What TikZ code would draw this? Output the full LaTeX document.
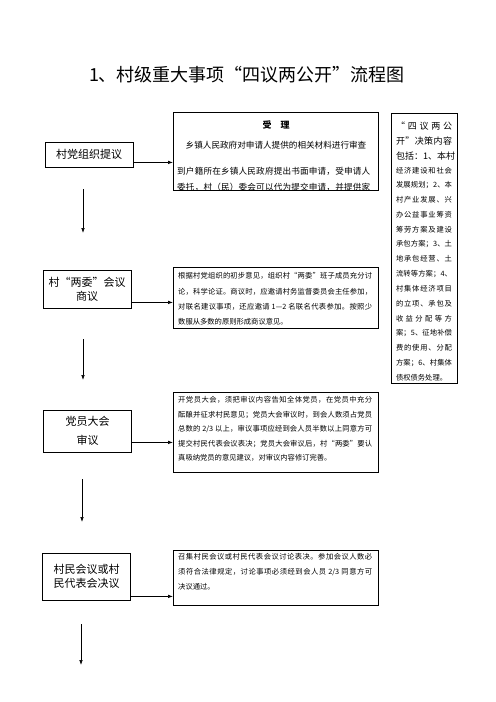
\documentclass[tikz,border=0pt]{standalone}
\usepackage{fontspec}
\setmainfont{Noto Sans CJK SC}
\usetikzlibrary{arrows.meta}
\ExplSyntaxOn
\NewDocumentCommand\jline{mm}{\hbox~to~#1{\tl_map_inline:nn{#2}{##1\hskip~0pt~plus~1fil}\unskip}}
\ExplSyntaxOff
\tikzset{
  lbox/.style={draw, line width=0.8bp, minimum width=88bp, align=center, inner sep=0pt,
    font=\fontsize{11bp}{14bp}\selectfont},
  rbox/.style={draw, line width=0.8bp, anchor=north west, inner sep=0pt},
  txt/.style={anchor=west, inner sep=0pt, font=\fontsize{7.3bp}{9bp}\selectfont},
  atxt/.style={inner sep=0pt, font=\fontsize{8.6bp}{10bp}\selectfont},
  etxt/.style={inner sep=0pt, font=\fontsize{7.3bp}{9bp}\selectfont},
  arr/.style={-{Latex[length=5bp,width=3.6bp]}, line width=0.7bp},
}
\begin{document}
\begin{tikzpicture}[x=1bp,y=-1bp]
\useasboundingbox (0,0) rectangle (496,702);
% title
\node[inner sep=0pt, font=\fontsize{18bp}{20bp}\selectfont] (title) at (247,75) {1、村级重大事项“四议两公开”流程图};
% left boxes
\node[lbox, minimum height=25bp] (b1) at (89,154.5) {村党组织提议};
\node[lbox, minimum height=38bp] (b2) at (87,289) {村“两委”会议\\商议};
\node[lbox, minimum height=42bp] (b3) at (87.5,431) {党员大会\\[5bp]审议};
\node[lbox, minimum height=47bp] (b4) at (86.5,576.5) {村民会议或村\\民代表会决议};
% vertical arrows
\coordinate (a1s) at (83,189); \coordinate (a1e) at (83,233);
\coordinate (a2s) at (83,339); \coordinate (a2e) at (83,380);
\coordinate (a3s) at (82,479); \coordinate (a3e) at (82,522);
\coordinate (a4s) at (81,624); \coordinate (a4e) at (81,665);
\draw[arr] (a1s) -- (a1e);
\draw[arr] (a2s) -- (a2e);
\draw[arr] (a3s) -- (a3e);
\draw[arr] (a4s) -- (a4e);
% right boxes
\node[rbox, minimum width=205bp, minimum height=78bp] (A) at (173,112) {};
\node[rbox, minimum width=205bp, minimum height=61bp] (B) at (173,267) {};
\node[rbox, minimum width=205bp, minimum height=80bp] (C) at (173,392) {};
\node[rbox, minimum width=205bp, minimum height=55bp] (D) at (173,550) {};
\node[rbox, minimum width=66bp, minimum height=270bp] (E) at (391,113) {};
% connectors
\draw[arr] ([yshift=5bp]b1.south east) -- ([yshift=5bp]b1.south east -| A.west);
\draw[arr] ([yshift=6bp]b2.south east) -- ([yshift=6bp]b2.south east -| B.west);
\draw[arr] ([yshift=10bp]b3.south east) -- ([yshift=10bp]b3.south east -| C.west);
\draw[arr] ([yshift=4bp]b4.south east) -- ([yshift=4bp]b4.south east -| D.west);
% box A text (clipped)
\begin{scope}
\clip (173,112) rectangle (378,190);
\node[inner sep=0pt, font=\bfseries\fontsize{9bp}{10bp}\selectfont] (A0) at (276,125) {受\quad 理};
\node[atxt] (A1) at (276,145) {乡镇人民政府对申请人提供的相关材料进行审查};
\node[atxt, anchor=west] (A2) at (177,171) {\jline{193bp}{到户籍所在乡镇人民政府提出书面申请，受申请人}};
\node[atxt, anchor=west] (A3) at (177,187) {\jline{193bp}{委托，村（民）委会可以代为提交申请，并提供家}};
\end{scope}
% box B text
\node[txt] (B1) at (178,276) {\jline{194bp}{根据村党组织的初步意见，组织村“两委”班子成员充分讨}};
\node[txt] (B2) at (178,291.5) {\jline{194bp}{论，科学论证。商议时，应邀请村务监督委员会主任参加，}};
\node[txt] (B3) at (178,307) {\jline{194bp}{对联名建议事项，还应邀请{{\ 1—2\ }}名联名代表参加。按照少}};
\node[txt] (B4) at (178,322) {数服从多数的原则形成商议意见。};
% box C text
\node[txt] (C1) at (178,400) {\jline{194bp}{开党员大会，须把审议内容告知全体党员，在党员中充分}};
\node[txt] (C2) at (178,414.5) {\jline{194bp}{酝酿并征求村民意见；党员大会审议时，到会人数须占党员}};
\node[txt] (C3) at (178,429) {\jline{194bp}{总数的{{\ 2/3\ }}以上，审议事项应经到会人员半数以上同意方可}};
\node[txt] (C4) at (178,443.5) {\jline{194bp}{提交村民代表会议表决；党员大会审议后，村“两委”要认}};
\node[txt] (C5) at (178,458) {真吸纳党员的意见建议，对审议内容修订完善。};
% box D text
\node[txt] (D1) at (178,557) {\jline{194bp}{召集村民会议或村民代表会议讨论表决。参加会议人数必}};
\node[txt] (D2) at (178,572) {\jline{194bp}{须符合法律规定，讨论事项必须经到会人员{{\ 2/3\ }}同意方可}};
\node[txt] (D3) at (178,587) {决议通过。};
% box E text
\begin{scope}
\clip (391,113) rectangle (457,383);
\foreach \t [count=\i from 0] in {
  {\fontsize{9bp}{10bp}\selectfont\jline{56bp}{“四议两公}},
  {\fontsize{9bp}{10bp}\selectfont\jline{56bp}{开”决策内容}},
  {\jline{56bp}{{\fontsize{9bp}{10bp}\selectfont 包}{\fontsize{9bp}{10bp}\selectfont 括}{\fontsize{9bp}{10bp}\selectfont ：}1、本村}},
  {\jline{56bp}{经济建设和社会}},
  {\jline{56bp}{发展规划；2、本}},
  {\jline{56bp}{村产业发展、兴}},
  {\jline{56bp}{办公益事业筹资}},
  {\jline{56bp}{筹劳方案及建设}},
  {\jline{56bp}{承包方案；3、土}},
  {\jline{56bp}{地承包经营、土}},
  {\jline{56bp}{流转等方案；4、}},
  {\jline{56bp}{村集体经济项目}},
  {\jline{56bp}{的立项、承包及}},
  {\jline{56bp}{收益分配等方}},
  {\jline{56bp}{案；5、征地补偿}},
  {\jline{56bp}{费的使用、分配}},
  {\jline{56bp}{方案；6、村集体}},
  {\makebox[56bp][l]{债权债务处理。}}
}{
  \node[etxt] (E\i) at (424,{126+14.8*\i}) {\t};
}
\end{scope}
\end{tikzpicture}
\end{document}
